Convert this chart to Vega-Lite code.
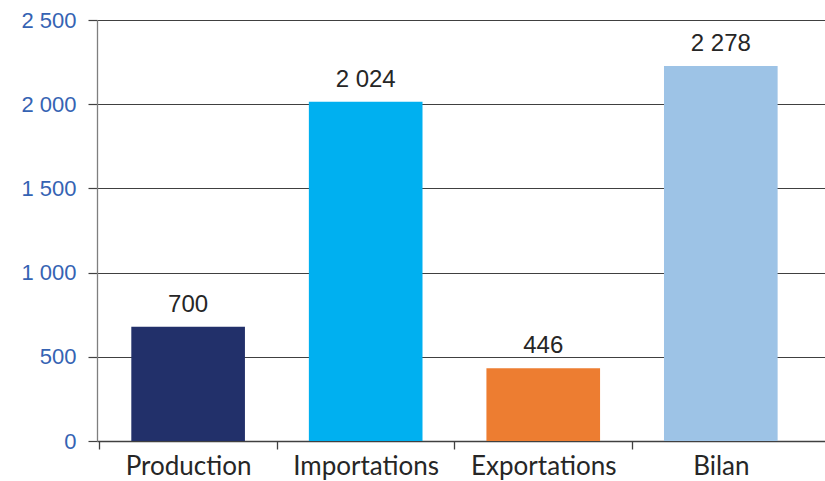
{
  "$schema": "https://vega.github.io/schema/vega-lite/v6.json",
  "autosize": "none",
  "width": 728,
  "height": 421,
  "padding": {"left": 97, "top": 20, "right": 0, "bottom": 40},
  "background": "white",
  "config": {
    "view": {"stroke": null},
    "locale": {"number": {"decimal": ",", "thousands": " ", "grouping": [3], "currency": ["", " €"]}}
  },
  "data": {
    "values": [
      {"poste": "Production", "valeur": 679, "etiquette": "700"},
      {"poste": "Importations", "valeur": 2015, "etiquette": "2 024"},
      {"poste": "Exportations", "valeur": 432, "etiquette": "446"},
      {"poste": "Bilan", "valeur": 2227, "etiquette": "2 278"}
    ]
  },
  "encoding": {
    "x": {
      "field": "poste",
      "type": "nominal",
      "sort": null,
      "title": null,
      "scale": {"paddingInner": 0.36, "paddingOuter": 0.23, "align": 0.42},
      "axis": {
        "labelAngle": 0,
        "labelFont": "Lato",
        "labelFontSize": 26,
        "labelColor": "#262626",
        "labelPadding": 4,
        "domainColor": "#404040",
        "domainWidth": 1.3,
        "tickColor": "#404040",
        "tickWidth": 1.3,
        "tickSize": 8,
        "tickOffset": -89,
        "labelOffset": 89
      }
    },
    "y": {
      "field": "valeur",
      "type": "quantitative",
      "title": null,
      "scale": {"domain": [0, 2500], "nice": false},
      "axis": {
        "values": [0, 500, 1000, 1500, 2000, 2500],
        "format": ",d",
        "labelFont": "Liberation Sans",
        "labelFontSize": 22,
        "labelColor": "#3563b3",
        "labelPadding": 12,
        "tickSize": 9,
        "tickColor": "#404040",
        "tickWidth": 1.2,
        "domainColor": "#7f7f7f",
        "domainWidth": 1.3,
        "gridColor": "#404040",
        "gridWidth": 1.2
      }
    }
  },
  "layer": [
    {
      "mark": {"type": "bar"},
      "encoding": {
        "color": {
          "field": "poste",
          "type": "nominal",
          "legend": null,
          "scale": {
            "domain": ["Production", "Importations", "Exportations", "Bilan"],
            "range": ["#22306a", "#00b0f0", "#ed7d31", "#9dc3e6"]
          }
        }
      }
    },
    {
      "mark": {"type": "text", "baseline": "alphabetic", "dy": -15, "font": "Liberation Sans", "fontSize": 24, "color": "#262626"},
      "encoding": {"text": {"field": "etiquette"}}
    }
  ]
}
